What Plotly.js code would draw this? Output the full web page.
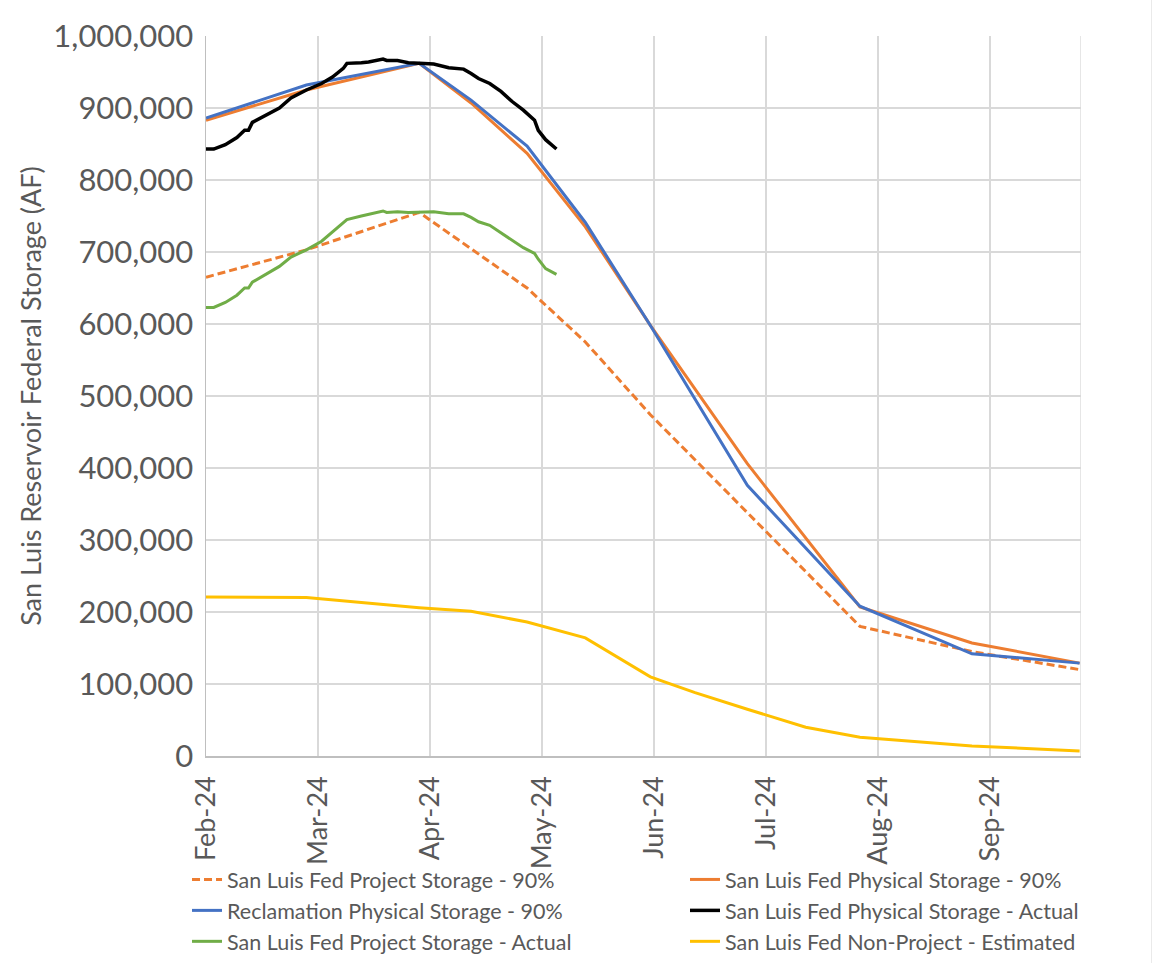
<!DOCTYPE html>
<html>
<head>
<meta charset="utf-8">
<script src="https://cdn.plot.ly/plotly-3.0.1.min.js"></script>
<style>html,body{margin:0;padding:0;background:#fff;}#chart{width:1152px;height:963px;}</style>
</head>
<body>
<div id="chart"></div>
<script>
// Month tick labels (axis spaced evenly by month)
const monthLabels = ["Feb-24","Mar-24","Apr-24","May-24","Jun-24","Jul-24","Aug-24","Sep-24"];

// Forecast dates (90% forecasts)
const forecastDates = ["2024-02-01","2024-02-27","2024-03-29","2024-04-12","2024-04-27","2024-05-13","2024-05-31","2024-06-26","2024-07-27","2024-08-27","2024-09-25"];
const projectStorage90  = [665000,703000,755000,705000,650000,575000,474000,338000,180000,145000,120000];
const physicalStorage90 = [883000,925000,962000,907000,837000,735000,598000,406000,207000,157000,129000];
const reclamation90     = [886000,932000,962000,911000,847000,741000,598000,376000,208000,142000,129000];

// Non-project estimate
const nonProjectDates = ["2024-02-01","2024-02-27","2024-03-29","2024-04-12","2024-04-27","2024-05-13","2024-05-31","2024-06-12","2024-06-26","2024-07-12","2024-07-27","2024-08-27","2024-09-25"];
const nonProject = [221000,220000,206000,201000,186000,164000,110000,88000,65000,40000,26000,14000,7000];

// Actuals
const actualDates = ["2024-02-01","2024-02-03","2024-02-06","2024-02-09","2024-02-11","2024-02-12","2024-02-13","2024-02-16","2024-02-20","2024-02-23","2024-02-27","2024-03-02","2024-03-05","2024-03-08","2024-03-09","2024-03-13","2024-03-15","2024-03-19","2024-03-20","2024-03-23","2024-03-26","2024-03-29","2024-04-02","2024-04-06","2024-04-10","2024-04-12","2024-04-14","2024-04-17","2024-04-20","2024-04-23","2024-04-26","2024-04-29","2024-04-30","2024-05-02","2024-05-05"];
const physicalActual = [843000,843000,849000,859000,869000,869000,880000,888000,900000,914000,925000,934000,943000,955000,962000,963000,964000,968000,966000,966000,963000,962000,961000,956000,954000,948000,941000,934000,923000,909000,897000,883000,869000,856000,843000];
const projectActual  = [623000,623000,630000,640000,650000,650000,658000,667000,680000,693000,703000,715000,728000,741000,745000,750000,752000,757000,755000,756000,755000,755000,756000,753000,753000,748000,742000,737000,727000,716000,706000,698000,690000,677000,669000];

// Map a date onto evenly spaced month positions (0 = Feb 1)
function mIdx(s){
  const p = s.split('-').map(Number);
  const dim = new Date(p[0], p[1], 0).getDate();
  return (p[1]-2) + (p[2]-1)/dim;
}
const fx = forecastDates.map(mIdx), nx = nonProjectDates.map(mIdx), ax = actualDates.map(mIdx);

const traces = [
  {x:fx, y:projectStorage90, name:"San Luis Fed Project Storage - 90%", mode:"lines", line:{color:"#ED7D31", width:3, dash:"8px,4px"}, legend:"legend"},
  {x:fx, y:physicalStorage90, name:"San Luis Fed Physical Storage - 90%", mode:"lines", line:{color:"#ED7D31", width:3}, legend:"legend2"},
  {x:fx, y:reclamation90, name:"Reclamation Physical Storage - 90%", mode:"lines", line:{color:"#4472C4", width:3}, legend:"legend"},
  {x:ax, y:physicalActual, name:"San Luis Fed Physical Storage - Actual", mode:"lines", line:{color:"#000000", width:3.5}, legend:"legend2"},
  {x:ax, y:projectActual, name:"San Luis Fed Project Storage - Actual", mode:"lines", line:{color:"#70AD47", width:3}, legend:"legend"},
  {x:nx, y:nonProject, name:"San Luis Fed Non-Project - Estimated", mode:"lines", line:{color:"#FFC000", width:3}, legend:"legend2"}
];

const FONT = "Lato, 'Open Sans', sans-serif";
const legendBase = {orientation:"v", xanchor:"left", y:-0.143, yanchor:"top",
  font:{size:21.5, color:"#595959", family:FONT}, traceorder:"normal", bgcolor:"rgba(0,0,0,0)"};
const layout = {
  width:1152, height:963,
  margin:{l:206, r:71, t:36, b:207, autoexpand:false},
  paper_bgcolor:"#fff", plot_bgcolor:"#fff",
  font:{family:FONT, color:"#595959"},
  showlegend:true,
  legend:Object.assign({}, legendBase, {x:-0.0217}),
  legend2:Object.assign({}, legendBase, {x:0.5474}),
  xaxis:{range:[0,7.8125], tickmode:"array", tickvals:monthLabels.map((_,i)=>i), ticktext:monthLabels,
         tickangle:-90, showgrid:true, gridcolor:"#d9d9d9", gridwidth:1.3,
         showline:true, linecolor:"#bfbfbf", linewidth:1.5, zeroline:false, ticks:"",
         tickfont:{size:27, color:"#595959", family:FONT}, ticklabelstandoff:8, automargin:false, fixedrange:true},
  yaxis:{range:[0,1000000], dtick:100000, tick0:0, tickformat:",", showgrid:true, gridcolor:"#d9d9d9", gridwidth:1.3,
         showline:true, linecolor:"#bfbfbf", linewidth:1.5, zeroline:false, ticks:"",
         tickfont:{size:31, color:"#595959", family:FONT}, ticklabelstandoff:5, automargin:false,
         title:{text:"San Luis Reservoir Federal Storage (AF)", font:{size:27, color:"#595959", family:FONT}, standoff:4},
         fixedrange:true},
  shapes:[
    {type:"line", xref:"x", yref:"paper", x0:7.8125, x1:7.8125, y0:0, y1:1, line:{color:"#d9d9d9", width:1.3}, layer:"below"},
    {type:"line", xref:"paper", yref:"paper", x0:1.0811, x1:1.0811, y0:-0.3, y1:1.06, line:{color:"#d9d9d9", width:1}}
  ]
};
Plotly.newPlot("chart", traces, layout, {displayModeBar:false, staticPlot:true});
</script>
</body>
</html>
